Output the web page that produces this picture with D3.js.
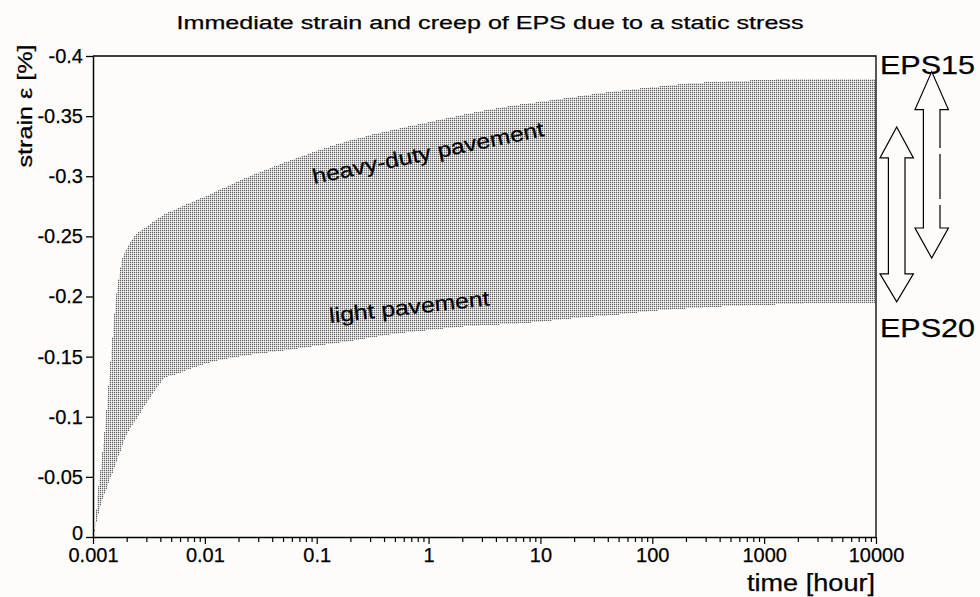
<!DOCTYPE html>
<html>
<head>
<meta charset="utf-8">
<script src="https://cdn.jsdelivr.net/npm/d3@7"></script>
<style>
  html, body { margin: 0; padding: 0; background: #fdfcfb; }
  svg { display: block; }
  text { font-family: "Liberation Sans", Arial, sans-serif; fill: #000; stroke: #000; stroke-width: 0.25px; }
</style>
</head>
<body>
<svg id="chart" width="980" height="597"></svg>
<script>
// ---------- data ----------
const timeHours = [0.001, 0.00105, 0.0011, 0.0012, 0.0013, 0.0014, 0.0015, 0.0016, 0.0017, 0.0018,
  0.002, 0.0024, 0.003, 0.004, 0.0045, 0.005, 0.007, 0.01, 0.02, 0.05, 0.1, 0.2, 0.5,
  1, 2, 5, 10, 20, 50, 100, 200, 500, 1000, 2000, 5000, 10000];
const heavyDuty = [0, -0.012, -0.035, -0.065, -0.098, -0.135, -0.168, -0.198, -0.216, -0.229,
  -0.240, -0.251, -0.258, -0.266, -0.269, -0.271, -0.277, -0.283, -0.296, -0.311, -0.321, -0.330, -0.339,
  -0.345, -0.351, -0.358, -0.362, -0.366, -0.371, -0.374, -0.377, -0.379, -0.380, -0.381, -0.381, -0.381];
const lightPavement = [0, -0.008, -0.016, -0.030, -0.038, -0.047, -0.054, -0.061, -0.068, -0.074,
  -0.085, -0.097, -0.111, -0.128, -0.133, -0.134, -0.139, -0.144, -0.150, -0.155, -0.159, -0.163, -0.169,
  -0.172, -0.175, -0.177, -0.179, -0.182, -0.185, -0.188, -0.190, -0.192, -0.193, -0.194, -0.195, -0.195];

const xTickValues = [0.001, 0.01, 0.1, 1, 10, 100, 1000, 10000];
const xTickLabels = ["0.001", "0.01", "0.1", "1", "10", "100", "1000", "10000"];
const yTickValues = [0, -0.05, -0.1, -0.15, -0.2, -0.25, -0.3, -0.35, -0.4];
const yTickLabels = ["0", "-0.05", "-0.1", "-0.15", "-0.2", "-0.25", "-0.3", "-0.35", "-0.4"];

const titleText = "Immediate strain and creep of EPS due to a static stress";
const xTitle = "time [hour]";
const yTitle = "strain \u03B5 [%]";
const bandLabels = ["heavy-duty pavement", "light pavement"];
const gradeLabels = ["EPS15", "EPS20"];
// arrow ranges (strain) for EPS15 and EPS20
const eps15Range = [-0.387, -0.232];
const eps20Range = [-0.341, -0.1955];

// ---------- layout ----------
const svg = d3.select("#chart");
const pLeft = 93, pRight = 876, pTop = 56, pBottom = 537;
const bg = "#fdfcfb";

const x = d3.scaleLog().domain([0.001, 10000]).range([pLeft, pRight]);
const y = d3.scaleLinear().domain([0, -0.4]).range([pBottom, pTop]);

// pattern for the dotted fill
const defs = svg.append("defs");
const pat = defs.append("pattern").attr("id", "dots")
  .attr("patternUnits", "userSpaceOnUse").attr("width", 2).attr("height", 2);
pat.append("rect").attr("x", 0).attr("y", 0).attr("width", 2).attr("height", 2).attr("fill", "#fcfcfc");
pat.append("rect").attr("x", 0).attr("y", 0).attr("width", 1).attr("height", 1).attr("fill", "#666666");
pat.append("rect").attr("x", 1).attr("y", 0).attr("width", 1).attr("height", 1).attr("fill", "#d2d2d2");
pat.append("rect").attr("x", 0).attr("y", 1).attr("width", 1).attr("height", 1).attr("fill", "#c8c8c8");

const rows = timeHours.map((t, i) => ({ t, hi: heavyDuty[i], lo: lightPavement[i] }));
const area = d3.area()
  .x(d => x(d.t))
  .y0(d => y(d.lo))
  .y1(d => y(d.hi))
  .curve(d3.curveMonotoneX);

svg.append("path").datum(rows)
  .attr("d", area)
  .attr("fill", "url(#dots)")
  .attr("shape-rendering", "crispEdges");

// frame (top & right)
svg.append("path")
  .attr("d", `M${pLeft},${pTop}H${pRight}V${pBottom}`)
  .attr("fill", "none").attr("stroke", "#000").attr("stroke-width", 1.3);

// y axis
const yAxis = svg.append("g").attr("transform", `translate(${pLeft},0)`)
  .call(d3.axisLeft(y).tickValues(yTickValues)
    .tickFormat((d, i) => yTickLabels[i]).tickSize(7).tickSizeOuter(0).tickPadding(3));
yAxis.attr("font-family", null).attr("font-size", null);
yAxis.select(".domain").attr("stroke-width", 1.5);
yAxis.selectAll(".tick line").attr("stroke-width", 1.3);
yAxis.selectAll(".tick text").attr("font-size", 20).attr("font-family", "Liberation Sans, Arial, sans-serif")
  .attr("y", d => d === 0 ? -4 : 0);

// x axis with minor ticks
const minorTicks = [];
for (let e = -3; e < 4; e++) for (let m = 2; m <= 9; m++) minorTicks.push(m * Math.pow(10, e));
const allXTicks = xTickValues.concat(minorTicks);
const xAxis = svg.append("g").attr("transform", `translate(0,${pBottom})`)
  .call(d3.axisBottom(x).tickValues(allXTicks)
    .tickFormat(d => { const i = xTickValues.indexOf(d); return i >= 0 ? xTickLabels[i] : ""; })
    .tickSize(5).tickSizeOuter(0).tickPadding(3));
xAxis.attr("font-family", null).attr("font-size", null);
xAxis.select(".domain").attr("stroke-width", 1.5);
xAxis.selectAll(".tick line").attr("stroke-width", 1.2)
  .attr("y2", d => xTickValues.indexOf(d) >= 0 ? 7 : 5);
xAxis.selectAll(".tick text").attr("font-size", 20).attr("font-family", "Liberation Sans, Arial, sans-serif").attr("y", 11);

// title
svg.append("text").attr("x", 490).attr("y", 29).attr("text-anchor", "middle")
  .attr("font-size", 19).attr("textLength", 627).attr("lengthAdjust", "spacingAndGlyphs")
  .text(titleText);

// axis titles
svg.append("text").attr("x", 875).attr("y", 591).attr("text-anchor", "end")
  .attr("font-size", 23).attr("textLength", 128).attr("lengthAdjust", "spacingAndGlyphs")
  .text(xTitle);
svg.append("text").attr("transform", "translate(32,106) rotate(-90)").attr("text-anchor", "middle")
  .attr("font-size", 21).attr("textLength", 123).attr("lengthAdjust", "spacingAndGlyphs")
  .text(yTitle);

// band labels
svg.append("text").attr("transform", "translate(314,184) rotate(-11.8)")
  .attr("font-size", 21).attr("textLength", 236).attr("lengthAdjust", "spacingAndGlyphs")
  .text(bandLabels[0]);
svg.append("text").attr("transform", "translate(330,323) rotate(-6.3)")
  .attr("font-size", 21).attr("textLength", 161).attr("lengthAdjust", "spacingAndGlyphs")
  .text(bandLabels[1]);

// grade labels
svg.append("text").attr("x", 880).attr("y", 74)
  .attr("font-size", 25).attr("textLength", 95).attr("lengthAdjust", "spacingAndGlyphs")
  .text(gradeLabels[0]);
svg.append("text").attr("x", 880).attr("y", 337)
  .attr("font-size", 25).attr("textLength", 95).attr("lengthAdjust", "spacingAndGlyphs")
  .text(gradeLabels[1]);

// double-headed hollow arrows
function doubleArrow(cx, yTop, yBot, headTop, headBot, headHalf, shaftHalf) {
  return `M${cx},${yTop}` +
    `L${cx + headHalf},${yTop + headTop}L${cx + shaftHalf},${yTop + headTop}` +
    `L${cx + shaftHalf},${yBot - headBot}L${cx + headHalf},${yBot - headBot}` +
    `L${cx},${yBot}` +
    `L${cx - headHalf},${yBot - headBot}L${cx - shaftHalf},${yBot - headBot}` +
    `L${cx - shaftHalf},${yTop + headTop}L${cx - headHalf},${yTop + headTop}Z`;
}
svg.append("path")
  .attr("d", doubleArrow(896.7, y(eps20Range[0]), y(eps20Range[1]), 31, 28, 16.7, 8.3))
  .attr("fill", bg).attr("stroke", "#000").attr("stroke-width", 1.2);
const a15Top = y(eps15Range[0]), a15Bot = y(eps15Range[1]);
svg.append("path")
  .attr("d", doubleArrow(931.7, a15Top, a15Bot, 38, 30, 16.7, 8.3))
  .attr("fill", bg).attr("stroke", "#000").attr("stroke-width", 1.2);
// small breaks in the right edge of the EPS15 arrow shaft
const shaftTop = a15Top + 38, shaftBot = a15Bot - 30, shaftLen = shaftBot - shaftTop;
[0.35, 0.78].forEach(f => {
  svg.append("line")
    .attr("x1", 931.7 + 8.3).attr("x2", 931.7 + 8.3)
    .attr("y1", shaftTop + f * shaftLen - 3).attr("y2", shaftTop + f * shaftLen + 3)
    .attr("stroke", bg).attr("stroke-width", 2);
});
</script>
</body>
</html>
